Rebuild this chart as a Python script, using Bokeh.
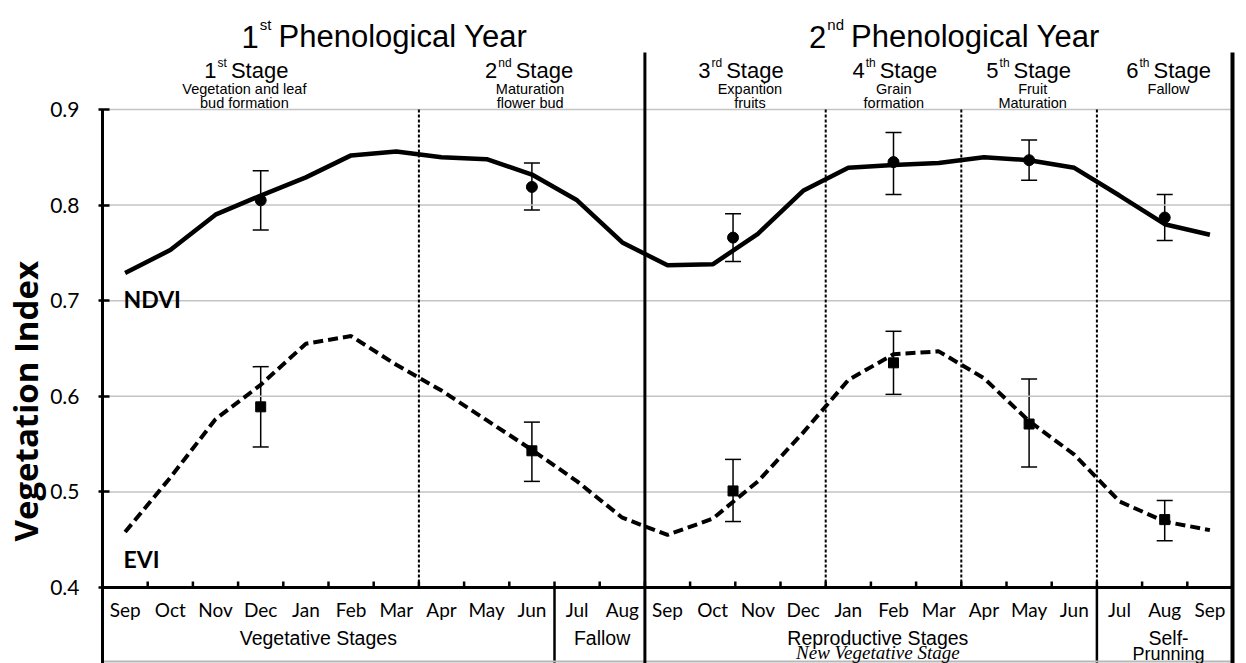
import math
from bokeh.plotting import figure
from bokeh.models import Range1d, FixedTicker, ColumnDataSource, Whisker, TeeHead, Title
from bokeh.core.properties import value
from bokeh.embed import file_html
from bokeh.resources import INLINE

# ---------------- data ----------------
months = ["Sep", "Oct", "Nov", "Dec", "Jan", "Feb", "Mar", "Apr", "May", "Jun", "Jul", "Aug",
          "Sep", "Oct", "Nov", "Dec", "Jan", "Feb", "Mar", "Apr", "May", "Jun", "Jul", "Aug", "Sep"]
ndvi = [0.729, 0.753, 0.790, 0.810, 0.829, 0.852, 0.856, 0.850, 0.848, 0.832, 0.805, 0.761,
        0.737, 0.738, 0.770, 0.815, 0.839, 0.842, 0.844, 0.850, 0.847, 0.839, 0.810, 0.780, 0.769]
evi = [0.458, 0.515, 0.576, 0.612, 0.655, 0.663, 0.633, 0.606, 0.575, 0.544, 0.511, 0.473,
       0.455, 0.472, 0.511, 0.562, 0.617, 0.644, 0.647, 0.619, 0.574, 0.539, 0.490, 0.469, 0.460]
obs_pos = [3.5, 9.5, 13.95, 17.5, 20.5, 23.5]
ndvi_obs = [0.805, 0.819, 0.766, 0.845, 0.847, 0.787]
ndvi_hi = [0.836, 0.844, 0.791, 0.876, 0.868, 0.811]
ndvi_lo = [0.774, 0.795, 0.741, 0.811, 0.826, 0.763]
evi_obs = [0.589, 0.543, 0.501, 0.635, 0.571, 0.471]
evi_hi = [0.631, 0.573, 0.534, 0.668, 0.618, 0.491]
evi_lo = [0.547, 0.511, 0.469, 0.602, 0.526, 0.449]
y_ticks = [0.4, 0.5, 0.6, 0.7, 0.8, 0.9]
year_nums = ["1", "2"]
year_sups = ["st", "nd"]
year_text = "Phenological Year"
year_edges = [0, 12, 25]
stage_nums = ["1", "2", "3", "4", "5", "6"]
stage_sups = ["st", "nd", "rd", "th", "th", "th"]
stage_word = "Stage"
stage_edges = [0, 7, 12, 16, 19, 22, 25]
stage_desc = [["Vegetation and leaf", "bud formation"], ["Maturation", "flower bud"],
              ["Expantion", "fruits"], ["Grain", "formation"], ["Fruit", "Maturation"], ["Fallow"]]
group_names = ["Vegetative Stages", "Fallow", "Reproductive Stages", "Self-"]
group_subs = ["", "", "New Vegetative Stage", "Prunning"]
group_edges = [0, 10, 12, 22, 25]
series_names = ["NDVI", "EVI"]
y_title = "Vegetation Index"

# ---------------- layout ----------------
W, H = 1246, 663
AX_L, AX_R = 101, 1232
FR_L, FR_R = 97, 1238
Y_TOP, Y_BOT = 109, 587
n = len(months)
MW = (AX_R - AX_L) / n
YS = (Y_BOT - Y_TOP) / (y_ticks[-1] - y_ticks[0])


def xd(px):
    return (px - AX_L) / MW


def yd(py):
    return y_ticks[-1] - (py - Y_TOP) / YS


ARIAL = {"P": .667, "h": .556, "e": .556, "n": .556, "o": .556, "l": .222, "g": .556,
         "i": .222, "c": .5, "a": .556, " ": .278, "Y": .667, "r": .333, "S": .667,
         "t": .278, "s": .5, "d": .556}


def adv(s, size):
    return sum(ARIAL.get(c, .556) for c in s) * size


SANS = "Liberation Sans"
CAL = "Lato"

p = figure(width=W, height=H, x_range=Range1d(xd(FR_L), xd(FR_R)),
           y_range=Range1d(yd(H), yd(0)), x_axis_type=None,
           output_backend="svg", toolbar_location=None,
           min_border_left=FR_L, min_border_right=W - FR_R,
           min_border_top=0, min_border_bottom=0)
p.outline_line_color = None
p.background_fill_color = "white"
p.border_fill_color = "white"
p.ygrid.visible = False

ax = p.yaxis[0]
ax.ticker = FixedTicker(ticks=y_ticks)
ax.axis_line_color = None
ax.major_tick_in = 11
ax.major_tick_out = 0
ax.major_tick_line_width = 2.5
ax.major_tick_line_color = "black"
ax.minor_tick_line_color = None
ax.major_label_standoff = 19
ax.major_label_text_font = CAL
ax.major_label_text_font_size = "21px"
ax.major_label_text_color = "black"

# y axis title as a left-side title, starting from the bottom with an offset
p.add_layout(Title(text=y_title, align="left", offset=H - 541, text_font="Open Sans",
                   text_font_style="bold", text_font_size="33px", text_color="black",
                   standoff=0), "left")

# gridlines
gy = y_ticks[1:]
p.segment(x0=[0] * len(gy), y0=gy, x1=[n] * len(gy), y1=gy, line_color="#c4c4c4", line_width=1.5)

# dotted stage lines
dots = [e for e in stage_edges[1:-1] if e not in year_edges]
p.segment(x0=dots, y0=[y_ticks[0]] * len(dots), x1=dots, y1=[y_ticks[-1]] * len(dots),
          line_color="black", line_width=2, line_dash="3 2")

# x-axis ticks
tk = list(range(1, n))
p.segment(x0=tk, y0=[y_ticks[0]] * len(tk), x1=tk, y1=[y_ticks[0] + 6 / YS] * len(tk),
          line_color="black", line_width=2.5)

# bottom table separators
seps = [e for e in group_edges[1:-1] if e not in year_edges]
p.segment(x0=seps, y0=[yd(H)] * len(seps), x1=seps, y1=[y_ticks[0]] * len(seps),
          line_color="black", line_width=2.5)
p.segment(x0=[0], y0=[yd(661)], x1=[n], y1=[yd(661)], line_color="#b8b8b8", line_width=2)

# frame lines
p.segment(x0=[0], y0=[y_ticks[0]], x1=[n], y1=[y_ticks[0]], line_color="black", line_width=3)
p.segment(x0=[0], y0=[yd(H)], x1=[0], y1=[y_ticks[-1]], line_color="black", line_width=3)
p.segment(x0=[year_edges[1]], y0=[yd(H)], x1=[year_edges[1]], y1=[yd(52)], line_color="black", line_width=3)
p.segment(x0=[year_edges[2]], y0=[yd(H)], x1=[year_edges[2]], y1=[yd(52)], line_color="black", line_width=4)

# series
xc = [i + 0.5 for i in range(n)]
p.line(xc, ndvi, line_color="black", line_width=4.5)
p.line(xc, evi, line_color="black", line_width=4, line_dash="10 5")

for obs, hi, lo in [(ndvi_obs, ndvi_hi, ndvi_lo), (evi_obs, evi_hi, evi_lo)]:
    src = ColumnDataSource(dict(x=obs_pos, y=obs, hi=hi, lo=lo))
    wk = Whisker(source=src, base="x", upper="hi", lower="lo", dimension="height",
                 line_color="black", line_width=1.5,
                 upper_head=TeeHead(size=16, line_color="black", line_width=1.5),
                 lower_head=TeeHead(size=16, line_color="black", line_width=1.5))
    p.add_layout(wk)
p.scatter(obs_pos, ndvi_obs, marker="circle", size=11, color="black")
p.scatter(obs_pos, evi_obs, marker="square", size=10, color="black")

# series labels
p.text(x=[xd(122), xd(122)], y=[yd(298), yd(558)], text=series_names,
       text_font=value(CAL), text_font_style="bold", text_font_size=value("23px"),
       text_align="left", text_baseline="alphabetic", text_color="black")

# month labels
p.text(x=xc, y=[yd(609)] * n, text=months, text_font=value(CAL),
       text_font_size=value("19px"), text_align="center", text_baseline="alphabetic",
       text_color="black")

# group labels
group_cx = [317, 601, 877, 1168]
gc = [xd(c) for c in group_cx]
p.text(x=gc, y=[yd(637)] * len(gc), text=group_names, text_font=value(SANS),
       text_font_size=value("19.5px"), text_align="center", text_baseline="alphabetic",
       text_color="black")
p.text(x=[gc[2]], y=[yd(652)], text=[group_subs[2]], text_font=value("Liberation Serif"),
       text_font_style="italic", text_font_size=value("19px"), text_align="center",
       text_baseline="alphabetic", text_color="black")
p.text(x=[gc[3]], y=[yd(653)], text=[group_subs[3]], text_font=value(SANS),
       text_font_size=value("18px"), text_align="center", text_baseline="alphabetic",
       text_color="black")


def sup_title(cx_px, nums, sups, rest, size, sup_size, gap, base_py, sup_py):
    num_x, sup_x, rest_x = [], [], []
    for cx, nm, sp in zip(cx_px, nums, sups):
        wn = adv(nm, size)
        ws = adv(sp, sup_size)
        wr = adv(rest, size)
        x0 = cx - (wn + 1 + ws + gap + wr) / 2
        num_x.append(xd(x0 + wn))
        sup_x.append(xd(x0 + wn + 1))
        rest_x.append(xd(x0 + wn + 1 + ws + gap))
    k = len(nums)
    p.text(x=num_x, y=[yd(base_py)] * k, text=nums, text_font=value(SANS),
           text_font_size=value(f"{size}px"), text_align="right", text_baseline="alphabetic",
           text_color="black")
    p.text(x=sup_x, y=[yd(sup_py)] * k, text=sups, text_font=value(SANS),
           text_font_size=value(f"{sup_size}px"), text_align="left", text_baseline="alphabetic",
           text_color="black")
    p.text(x=rest_x, y=[yd(base_py)] * k, text=[rest] * k, text_font=value(SANS),
           text_font_size=value(f"{size}px"), text_align="left", text_baseline="alphabetic",
           text_color="black")


# year titles
sup_title([384.5, 955], year_nums, year_sups, year_text, 31, 15, 7, 36, 24)
# stage titles
stage_cx = [245, 528, 740, 894, 1028, 1168]
sup_title(stage_cx, stage_nums, stage_sups, stage_word, 22, 12, 4, 70, 62)
# stage descriptions
desc_cx = [243, 529, 749, 893, 1032, 1168]
dx, dy, dt = [], [], []
for cx, lines in zip(desc_cx, stage_desc):
    for j, t in enumerate(lines):
        dx.append(xd(cx))
        dy.append(yd(88 + 14 * j))
        dt.append(t)
p.text(x=dx, y=dy, text=dt, text_font=value(SANS), text_font_size=value("14.5px"),
       text_align="center", text_baseline="alphabetic", text_color="black")

open("out.html", "w").write(file_html(p, INLINE))
